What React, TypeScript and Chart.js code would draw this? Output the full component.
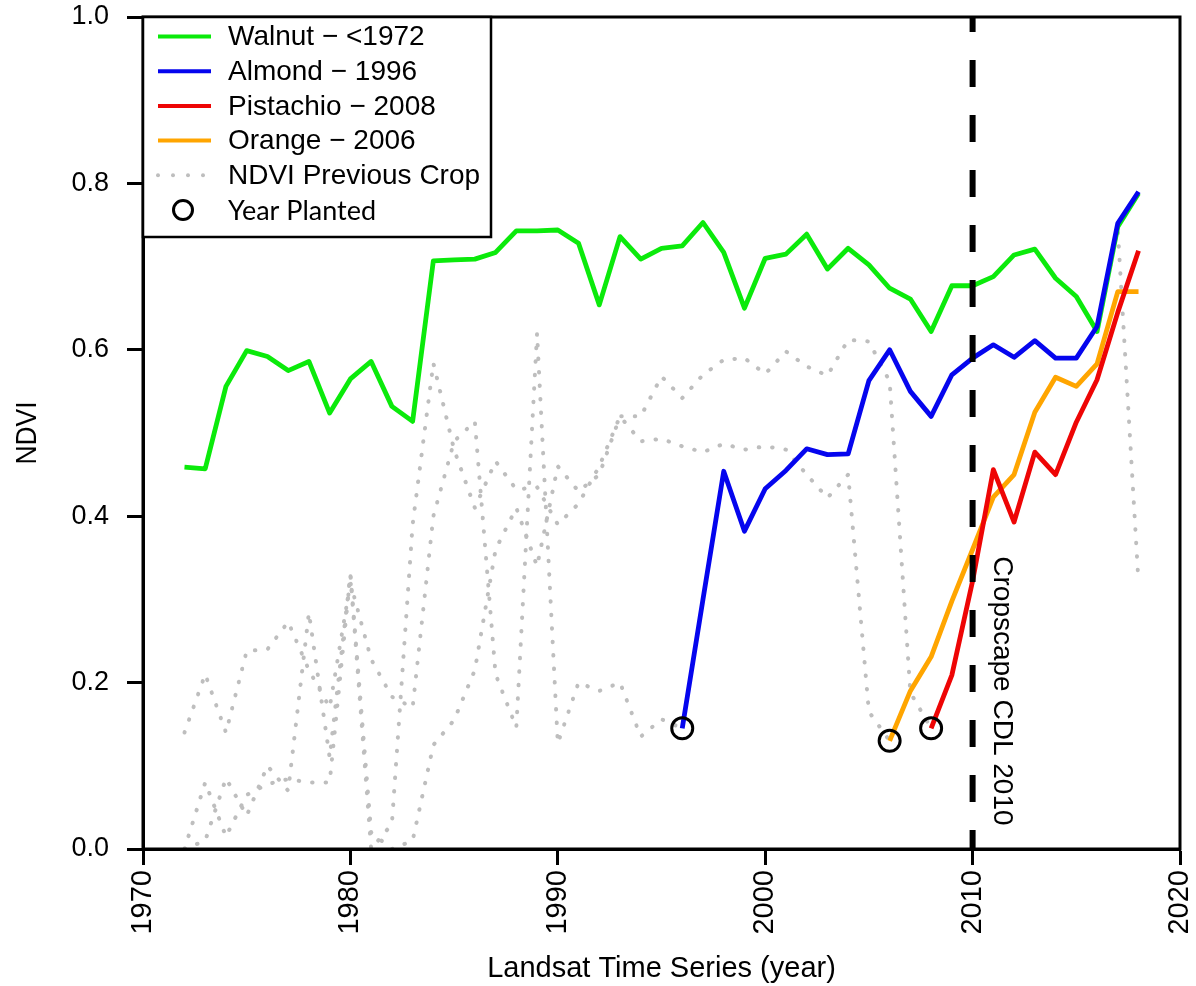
import React, { useEffect, useRef } from "react";
import { Chart, registerables } from "chart.js";

Chart.register(...registerables);

// ---------------- data ----------------
const walnutStart = 1972;
const walnutNdvi = [
  0.459, 0.457, 0.556, 0.599, 0.592, 0.575, 0.586, 0.524, 0.565, 0.586,
  0.532, 0.514, 0.707, 0.708, 0.709, 0.717, 0.743, 0.743, 0.744, 0.728,
  0.654, 0.736, 0.709, 0.722, 0.725, 0.753, 0.717, 0.65, 0.71, 0.715,
  0.739, 0.697, 0.722, 0.702, 0.674, 0.661, 0.622, 0.677, 0.677, 0.688,
  0.714, 0.721, 0.686, 0.664, 0.622, 0.748, 0.788,
];

const almondStart = 1996;
const almondNdvi = [
  0.145, 0.3, 0.454, 0.382, 0.433, 0.455, 0.481, 0.474, 0.475, 0.563,
  0.6, 0.55, 0.52, 0.57, 0.59, 0.606, 0.591, 0.611, 0.59, 0.59, 0.628,
  0.752, 0.79,
];

const pistachioStart = 2008;
const pistachioNdvi = [0.145, 0.209, 0.322, 0.456, 0.393, 0.477, 0.45, 0.513, 0.564, 0.645, 0.719];

const orangeStart = 2006;
const orangeNdvi = [0.13, 0.19, 0.231, 0.298, 0.36, 0.423, 0.45, 0.525, 0.567, 0.556, 0.583, 0.67, 0.67];

// NDVI of the previous crop on each field
const prevAlmondStart = 1972;
const prevAlmondNdvi = [
  0.14, 0.21, 0.14, 0.238, 0.24, 0.273, 0.215, 0.17, 0.32, 0.228, 0.183,
  0.17, 0.4, 0.49, 0.514, 0.21, 0.146, 0.62, 0.127, 0.2, 0.19, 0.2, 0.135,
  0.156, 0.145,
];
const prevOrangeStart = 1972;
const prevOrangeNdvi = [
  0.0, 0.08, 0.015, 0.065, 0.078, 0.084, 0.08, 0.08, 0.33, 0.0, 0.03, 0.39,
  0.584, 0.48, 0.41, 0.466, 0.432, 0.435, 0.39, 0.415, 0.46, 0.52, 0.49,
  0.493, 0.484, 0.477, 0.487, 0.48, 0.484, 0.48, 0.45, 0.422, 0.45, 0.165,
  0.13,
];
const prevPistachioStart = 1972;
const prevPistachioNdvi = [
  0.0, 0.01, 0.085, 0.04, 0.1, 0.07, 0.284, 0.11, 0.33, 0.02, 0.0, 0.01,
  0.125, 0.155, 0.215, 0.36, 0.41, 0.34, 0.46, 0.43, 0.45, 0.52, 0.52,
  0.568, 0.542, 0.57, 0.588, 0.59, 0.571, 0.598, 0.58, 0.569, 0.612, 0.61,
  0.562, 0.188, 0.145,
];
const prevWalnutStart = 2016;
const prevWalnutNdvi = [0.622, 0.745, 0.32];

const plantedYears = [1996, 2006, 2008];
const plantedNdvi = [0.145, 0.13, 0.145];

const cdlYear = 2010;

const xTickValues = [1970, 1980, 1990, 2000, 2010, 2020];
const yTickValues = [0, 0.2, 0.4, 0.6, 0.8, 1.0];

const legendLabels = [
  "Walnut \u2212 <1972",
  "Almond \u2212 1996",
  "Pistachio \u2212 2008",
  "Orange \u2212 2006",
  "NDVI Previous Crop",
  "Year Planted",
];

const GREEN = "#0BEA0B";
const BLUE = "#0505EE";
const RED = "#EE0505";
const ORANGE = "#FFA500";
const GRAY = "#BEBEBE";
const legendColors = [GREEN, BLUE, RED, ORANGE, GRAY, "#000"];

const SANS = "'Liberation Sans', Arial, Helvetica, sans-serif";

function pts(start: number, vals: number[]) {
  return vals.map((v, i) => ({ x: start + i, y: v }));
}

const decorPlugin = {
  id: "decor",
  beforeDraw(chart: any) {
    const { ctx, width, height } = chart;
    ctx.save();
    ctx.fillStyle = "#fff";
    ctx.fillRect(0, 0, width, height);
    ctx.restore();
  },
  afterDatasetsDraw(chart: any) {
    const { ctx, chartArea } = chart;
    const { left, top, right, bottom } = chartArea;
    ctx.save();

    // plot frame
    ctx.strokeStyle = "#000";
    ctx.lineWidth = 3;
    ctx.setLineDash([]);
    ctx.strokeRect(left, top, right - left, bottom - top);

    // CDL label
    const xs = chart.scales.x;
    const ys = chart.scales.y;
    ctx.save();
    ctx.translate(xs.getPixelForValue(cdlYear) + 29, ys.getPixelForValue(0.19));
    ctx.rotate(Math.PI / 2);
    ctx.fillStyle = "#000";
    ctx.font = `28px ${SANS}`;
    ctx.textAlign = "center";
    ctx.textBaseline = "middle";
    ctx.fillText("Cropscape CDL 2010", 0, 0);
    ctx.restore();

    // legend
    const bx0 = left;
    const by0 = top;
    const bx1 = left + 348;
    const by1 = top + 220;
    ctx.fillStyle = "#fff";
    ctx.fillRect(bx0, by0, bx1 - bx0, by1 - by0);
    ctx.strokeStyle = "#000";
    ctx.lineWidth = 2.5;
    ctx.strokeRect(bx0, by0, bx1 - bx0, by1 - by0);

    const rowY0 = top + 19.5;
    const rowStep = 34.7;
    legendLabels.forEach((lab, i) => {
      const yy = rowY0 + i * rowStep;
      if (i < 4) {
        ctx.strokeStyle = legendColors[i];
        ctx.lineWidth = 4;
        ctx.beginPath();
        ctx.moveTo(left + 15, yy);
        ctx.lineTo(left + 68, yy);
        ctx.stroke();
      } else if (i === 4) {
        ctx.fillStyle = GRAY;
        for (let k = 0; k < 4; k++) {
          ctx.beginPath();
          ctx.arc(left + 15 + k * 15, yy, 2, 0, Math.PI * 2);
          ctx.fill();
        }
      } else {
        ctx.strokeStyle = "#000";
        ctx.lineWidth = 3;
        ctx.beginPath();
        ctx.arc(left + 40, yy, 9.5, 0, Math.PI * 2);
        ctx.stroke();
      }
      ctx.fillStyle = "#000";
      ctx.font = i === 5 ? `27px Lato, 'Open Sans', ${SANS}` : `28px ${SANS}`;
      ctx.textAlign = "left";
      ctx.textBaseline = "middle";
      ctx.fillText(lab, left + 85, yy + 1);
    });

    // axis titles
    ctx.fillStyle = "#000";
    ctx.font = `29px ${SANS}`;
    ctx.textAlign = "center";
    ctx.textBaseline = "alphabetic";
    ctx.fillText("Landsat Time Series (year)", (left + right) / 2, 977);
    ctx.save();
    ctx.translate(28, (top + bottom) / 2);
    ctx.rotate(-Math.PI / 2);
    ctx.scale(0.88, 1);
    ctx.textBaseline = "middle";
    ctx.font = `30px ${SANS}`;
    ctx.fillText("NDVI", 0, 0);
    ctx.restore();

    ctx.restore();
  },
};

export default function App() {
  const canvasRef = useRef<HTMLCanvasElement | null>(null);

  useEffect(() => {
    if (!canvasRef.current) return;
    const grayDs = (start: number, vals: number[]) => ({
      data: pts(start, vals),
      borderColor: GRAY,
      borderWidth: 4,
      borderDash: [0.5, 13],
      borderCapStyle: "round",
      pointRadius: 0,
      tension: 0,
      fill: false,
    });
    const lineDs = (start: number, vals: number[], color: string) => ({
      data: pts(start, vals),
      borderColor: color,
      borderWidth: 4.8,
      borderJoinStyle: "round",
      pointRadius: 0,
      tension: 0,
      fill: false,
    });

    const chart = new Chart(canvasRef.current, {
      type: "line",
      data: {
        datasets: [
          {
            data: plantedYears.map((y, i) => ({ x: y, y: plantedNdvi[i] })),
            showLine: false,
            pointRadius: 10.5,
            pointBorderWidth: 3,
            pointBorderColor: "#000",
            pointBackgroundColor: "rgba(0,0,0,0)",
          } as any,
          {
            data: [
              { x: cdlYear, y: 1 },
              { x: cdlYear, y: 0 },
            ],
            borderColor: "#000",
            borderWidth: 6,
            borderDash: [27, 28],
            borderDashOffset: 12,
            pointRadius: 0,
          } as any,
          lineDs(pistachioStart, pistachioNdvi, RED) as any,
          lineDs(orangeStart, orangeNdvi, ORANGE) as any,
          lineDs(almondStart, almondNdvi, BLUE) as any,
          lineDs(walnutStart, walnutNdvi, GREEN) as any,
          grayDs(prevWalnutStart, prevWalnutNdvi) as any,
          grayDs(prevAlmondStart, prevAlmondNdvi) as any,
          grayDs(prevOrangeStart, prevOrangeNdvi) as any,
          grayDs(prevPistachioStart, prevPistachioNdvi) as any,
        ],
      },
      options: {
        animation: false,
        responsive: false,
        events: [],
        layout: { padding: { left: 0, right: 16, top: 17, bottom: 0 } },
        plugins: { legend: { display: false }, tooltip: { enabled: false } },
        scales: {
          x: {
            type: "linear",
            min: 1970,
            max: 2020,
            afterBuildTicks: (s: any) => {
              s.ticks = xTickValues.map((v) => ({ value: v }));
            },
            afterFit: (s: any) => {
              s.height = 137;
              s.paddingLeft = 0;
              s.paddingRight = 0;
            },
            ticks: {
              autoSkip: false,
              minRotation: 90,
              maxRotation: 90,
              padding: 5,
              color: "#000",
              font: { family: SANS, size: 29 },
              callback: (v: any) => String(v),
            },
            grid: {
              drawOnChartArea: false,
              drawTicks: true,
              tickLength: 16,
              tickWidth: 3,
              tickColor: "#000",
            },
            border: { display: true, color: "#000", width: 3 },
          },
          y: {
            type: "linear",
            min: 0,
            max: 1,
            afterBuildTicks: (s: any) => {
              s.ticks = yTickValues.map((v) => ({ value: v }));
            },
            afterFit: (s: any) => {
              s.width = 143;
              s.paddingTop = 0;
              s.paddingBottom = 0;
            },
            ticks: {
              padding: 18,
              color: "#000",
              font: { family: SANS, size: 27 },
              callback: (v: any) => Number(v).toFixed(1),
            },
            grid: {
              drawOnChartArea: false,
              drawTicks: true,
              tickLength: 16,
              tickWidth: 3,
              tickColor: "#000",
            },
            border: { display: true, color: "#000", width: 3 },
          },
        },
      } as any,
      plugins: [decorPlugin as any],
    });
    return () => chart.destroy();
  }, []);

  return (
    <div style={{ position: "absolute", left: 0, top: 0, width: 1196, height: 986, background: "#fff" }}>
      <canvas ref={canvasRef} width={1196} height={986} style={{ display: "block" }} />
    </div>
  );
}
